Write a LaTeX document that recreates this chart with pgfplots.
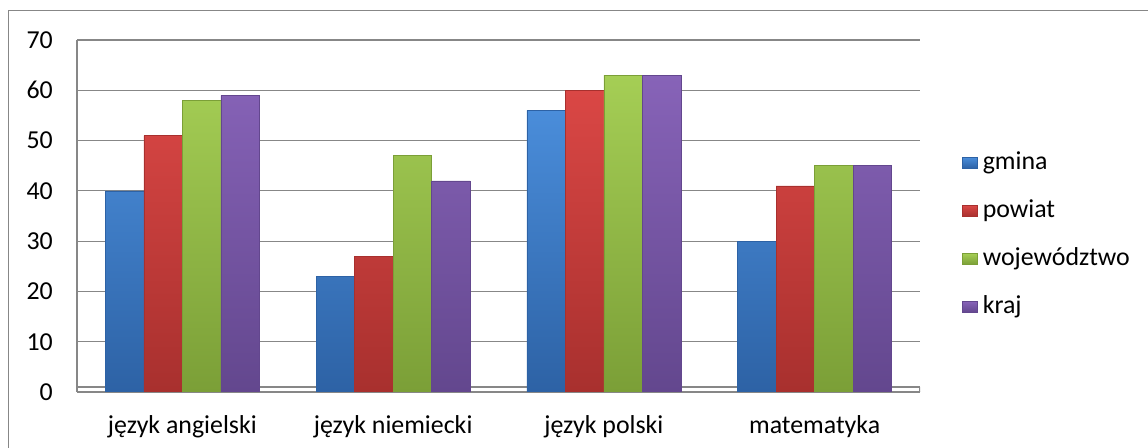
\documentclass[border=0pt]{standalone}
\usepackage{pgfplots}
\pgfplotsset{compat=1.18}
\usepackage{fontspec}
\setmainfont{Carlito}
\definecolor{gridgray}{HTML}{878787}
\definecolor{blueL}{HTML}{4A8DDA}\definecolor{blueD}{HTML}{2D62A5}
\definecolor{redL}{HTML}{DA4745}\definecolor{redD}{HTML}{A8302E}
\definecolor{greenL}{HTML}{A5CE55}\definecolor{greenD}{HTML}{7B9F37}
\definecolor{purpL}{HTML}{8763B8}\definecolor{purpD}{HTML}{63478E}
\newcommand{\cfont}{\fontsize{19.4}{23}\selectfont}
\begin{document}
\begin{tikzpicture}
\useasboundingbox (0,0) rectangle (861pt,336pt);
\draw[gridgray, line width=0.8pt] (6.375pt,-2pt) -- (6.375pt,328.1pt) -- (863pt,328.1pt);
\begin{axis}[
  at={(57.75pt,42pt)}, anchor=south west,
  scale only axis, width=632.25pt, height=264pt,
  xmin=-0.5, xmax=3.5, ymin=0, ymax=70,
  ytick={0,10,...,70},
  xtick={0,1,2,3},
  xticklabels={język angielski, język niemiecki, język polski, matematyka},
  xtick style={draw=none}, ytick style={draw=none},
  axis x line*=bottom, axis y line*=left,
  axis line style={draw=gridgray, line width=0.8pt},
  ymajorgrids, grid style={draw=gridgray, line width=0.8pt},
  /pgf/number format/assume math mode=true,
  tick label style={font=\cfont, text=black},
  yticklabel style={anchor=east, inner sep=0pt, xshift=-18pt},
  xticklabel style={anchor=base, inner sep=0pt, yshift=-27pt},
  ybar, bar width=0.1827,
  legend style={at={(1.0498,0.446)}, anchor=west, draw=none, fill=none,
    inner sep=0pt, font=\cfont,
    nodes={inner sep=0pt, text height=14pt, text depth=4.5pt, anchor=base west},
    row sep=17.5pt, column sep=3.75pt},
  legend cell align=left,
  legend image code/.code={\path[#1] (0pt,0.75pt) rectangle (11.25pt,9pt);},
]
\draw[gridgray, line width=0.8pt] (axis cs:-0.5,1) -- (axis cs:3.5,1);
\draw[gridgray, line width=0.8pt] (axis cs:3.5,0) -- (axis cs:3.5,1);
\addplot[bar shift=-0.274, draw=blueD, line width=0.4pt, top color=blueL, bottom color=blueD]
  coordinates {(0,40) (1,23) (2,56) (3,30)};
\addplot[bar shift=-0.0913, draw=redD, line width=0.4pt, top color=redL, bottom color=redD]
  coordinates {(0,51) (1,27) (2,60) (3,41)};
\addplot[bar shift=0.0913, draw=greenD, line width=0.4pt, top color=greenL, bottom color=greenD]
  coordinates {(0,58) (1,47) (2,63) (3,45)};
\addplot[bar shift=0.274, draw=purpD, line width=0.4pt, top color=purpL, bottom color=purpD]
  coordinates {(0,59) (1,42) (2,63) (3,45)};
\legend{gmina, powiat, województwo, kraj}
\draw[gridgray, line width=0.8pt] (axis cs:-0.5,0) -- ++(0,-4.5pt);
\draw[gridgray, line width=0.8pt] (axis cs:0.5,0) -- ++(0,-4.5pt);
\draw[gridgray, line width=0.8pt] (axis cs:1.5,0) -- ++(0,-4.5pt);
\draw[gridgray, line width=0.8pt] (axis cs:2.5,0) -- ++(0,-4.5pt);
\draw[gridgray, line width=0.8pt] (axis cs:3.5,0) -- ++(0,-4.5pt);
\end{axis}
\end{tikzpicture}
\end{document}
